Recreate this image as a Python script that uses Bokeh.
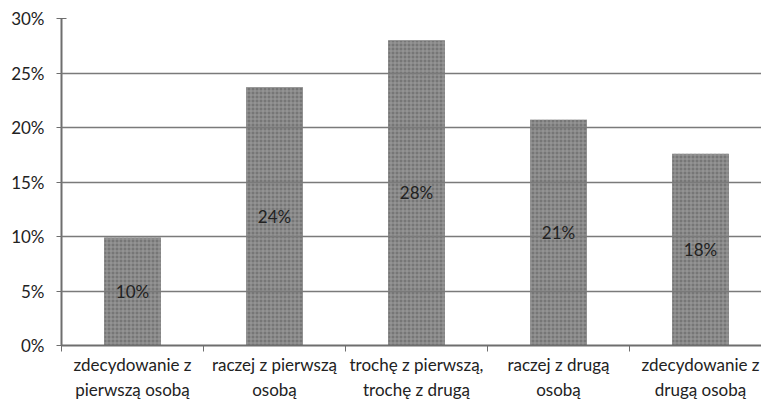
from bokeh.plotting import figure
from bokeh.models import FixedTicker, NumeralTickFormatter, ColumnDataSource, Range1d
from bokeh.core.properties import value
from bokeh.embed import file_html
from bokeh.resources import INLINE

# Answer categories and their shares (percent)
categories = [
    "zdecydowanie z\npierwszą osobą",
    "raczej z pierwszą\nosobą",
    "trochę z pierwszą,\ntrochę z drugą",
    "raczej z drugą\nosobą",
    "zdecydowanie z\ndrugą osobą",
]
shares = [9.9, 23.7, 28.0, 20.7, 17.6]
y_ticks = [0, 5, 10, 15, 20, 25, 30]

FONT = "Lato"
FS = "17px"
n = len(categories)
centers = [i + 0.5 for i in range(n)]

src = ColumnDataSource(dict(
    x=centers,
    top=[s / 100 for s in shares],
    mid=[s / 200 for s in shares],
    lab=[f"{round(s)}%" for s in shares],
))

p = figure(width=761, height=402, output_backend="svg", toolbar_location=None,
           x_range=Range1d(0, 700 / 142), y_range=Range1d(0, 0.30),
           min_border_left=61, min_border_right=0, min_border_top=18,
           min_border_bottom=56)
p.outline_line_color = None
p.background_fill_color = "white"
p.border_fill_color = "white"

# textured grey columns
p.vbar(x="x", top="top", width=0.40, bottom=0, source=src,
       fill_color="#767676", line_color=None,
       hatch_pattern="+", hatch_color="#9c9c9c", hatch_scale=4, hatch_weight=1)

# value labels in the middle of each column
t = p.text(x="x", y="mid", text="lab", source=src, text_align="center",
           text_baseline="middle", text_font=value(FONT), text_font_size=FS,
           text_color="#222222")
t.level = "overlay"

# horizontal grid drawn over the columns
p.xgrid.visible = False
p.ygrid.ticker = FixedTicker(ticks=[v / 100 for v in y_ticks])
p.ygrid.grid_line_color = "#7a7a7a"
p.ygrid.grid_line_width = 1.5
p.ygrid.level = "annotation"

ya = p.yaxis[0]
ya.ticker = FixedTicker(ticks=[v / 100 for v in y_ticks])
ya.formatter = NumeralTickFormatter(format="0%")
ya.axis_line_color = "#6e6e6e"
ya.axis_line_width = 2
ya.major_tick_line_color = "#6e6e6e"
ya.major_tick_out = 5
ya.major_tick_in = 5
ya.minor_tick_line_color = None
ya.major_label_standoff = 12
ya.major_label_text_font = FONT
ya.major_label_text_font_size = FS
ya.major_label_text_color = "#222222"

xa = p.xaxis[0]
xa.ticker = FixedTicker(ticks=centers, minor_ticks=list(range(n + 1)))
xa.major_label_overrides = {c: lab for c, lab in zip(centers, categories)}
xa.axis_line_color = "#6e6e6e"
xa.axis_line_width = 2
xa.major_tick_line_color = None
xa.minor_tick_line_color = "#6e6e6e"
xa.minor_tick_out = 6
xa.minor_tick_in = 0
xa.major_label_standoff = 2
xa.major_label_text_font = FONT
xa.major_label_text_font_size = FS
xa.major_label_text_color = "#222222"

open("out.html", "w").write(file_html(p, INLINE))
